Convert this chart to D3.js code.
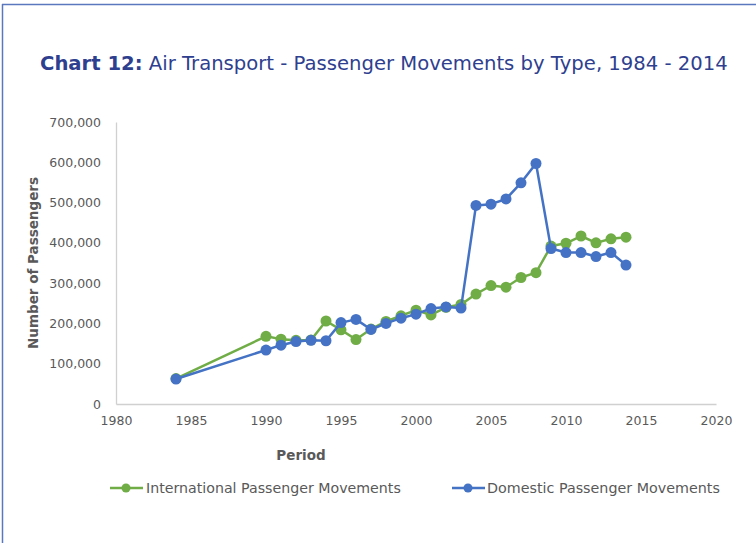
<!DOCTYPE html>
<html>
<head>
<meta charset="utf-8">
<script src="https://cdn.jsdelivr.net/npm/d3@7/dist/d3.min.js"></script>
<style>
  html, body { margin: 0; padding: 0; background: #fff; }
  svg { display: block; }
  text { font-family: "DejaVu Sans", sans-serif; }
</style>
</head>
<body>
<svg id="chart" width="756" height="543"></svg>
<script>
// ---- Data ----
const years = [1984, 1990, 1991, 1992, 1993, 1994, 1995, 1996, 1997, 1998, 1999, 2000, 2001, 2002, 2003, 2004, 2005, 2006, 2007, 2008, 2009, 2010, 2011, 2012, 2013, 2014];
const international = [63000, 168000, 161000, 158000, 159000, 206000, 184000, 160000, 186000, 205000, 219000, 233000, 221000, 240000, 247000, 273000, 294000, 290000, 314000, 326000, 392000, 399000, 417000, 400000, 410000, 414000];
const domestic = [62000, 134000, 146000, 155000, 158000, 157000, 202000, 210000, 185000, 200000, 213000, 223000, 237000, 241000, 238000, 493000, 496000, 509000, 549000, 597000, 386000, 376000, 376000, 366000, 376000, 345000];
const xTicks = [1980, 1985, 1990, 1995, 2000, 2005, 2010, 2015, 2020];
const yTicks = [0, 100000, 200000, 300000, 400000, 500000, 600000, 700000];
const seriesNames = ["International Passenger Movements", "Domestic Passenger Movements"];
const seriesColors = ["#70ad47", "#4472c4"];

const svg = d3.select("#chart");

// border
svg.append("line").attr("x1", 2.5).attr("x2", 2.5).attr("y1", 4).attr("y2", 543)
  .attr("stroke", "#5a78bd").attr("stroke-width", 1.5);
svg.append("line").attr("x1", 2).attr("x2", 756).attr("y1", 4.5).attr("y2", 4.5)
  .attr("stroke", "#5a78bd").attr("stroke-width", 1.5);

// Title
const title = svg.append("text").attr("x", 40).attr("y", 70).attr("fill", "#2f3f8f").attr("font-size", 19);
title.append("tspan").attr("font-weight", "bold").text("Chart 12:");
title.append("tspan").text(" Air Transport - Passenger Movements by Type, 1984 - 2014");
{
  const w = title.node().getComputedTextLength();
  title.attr("font-size", 19 * (688 / w));
}

const x = d3.scaleLinear().domain([1980, 2020]).range([116, 716]);
const y = d3.scaleLinear().domain([0, 700000]).range([404, 122]);

// axes
const xAxis = svg.append("g").attr("transform", "translate(0,404)")
  .call(d3.axisBottom(x).tickValues(xTicks).tickSize(0).tickPadding(12).tickFormat(d3.format("d")));
const yAxis = svg.append("g").attr("transform", "translate(116,0)")
  .call(d3.axisLeft(y).tickValues(yTicks).tickSize(0).tickPadding(15).tickFormat(d3.format(",")));
[xAxis, yAxis].forEach(g => {
  g.select(".domain").attr("stroke", "#d0d0d0").attr("stroke-width", 1.3);
  g.selectAll("text").attr("fill", "#595959").attr("font-size", 12.5).attr("font-family", "DejaVu Sans");
});

// axis titles
svg.append("text").attr("x", 301).attr("y", 460).attr("text-anchor", "middle")
  .attr("font-weight", "bold").attr("font-size", 13.5).attr("fill", "#595959").text("Period");
svg.append("text").attr("transform", "translate(38,263) rotate(-90)").attr("text-anchor", "middle")
  .attr("font-weight", "bold").attr("font-size", 13.5).attr("fill", "#595959").text("Number of Passengers");

// soft marker filter
const defs = svg.append("defs");
defs.append("filter").attr("id", "soft").attr("x", "-50%").attr("y", "-50%").attr("width", "200%").attr("height", "200%")
  .append("feGaussianBlur").attr("stdDeviation", 0.7);

const seriesData = [international, domestic];
const line = d3.line().x((d, i) => x(years[i])).y(d => y(d));
seriesData.forEach((vals, si) => {
  const g = svg.append("g");
  g.append("path").datum(vals).attr("d", line).attr("fill", "none")
    .attr("stroke", seriesColors[si]).attr("stroke-width", 2.5).attr("stroke-linejoin", "round");
  g.selectAll("circle").data(vals).join("circle")
    .attr("cx", (d, i) => x(years[i])).attr("cy", d => y(d)).attr("r", 5.5)
    .attr("fill", seriesColors[si]).attr("filter", "url(#soft)");
});

// legend
const legendItems = [
  { x0: 110, x1: 143, mx: 126, tx: 146, tw: 255 },
  { x0: 452, x1: 485, mx: 468, tx: 487, tw: 233 }
];
legendItems.forEach((L, i) => {
  const g = svg.append("g");
  g.append("line").attr("x1", L.x0).attr("x2", L.x1).attr("y1", 488).attr("y2", 488)
    .attr("stroke", seriesColors[i]).attr("stroke-width", 2.5);
  g.append("circle").attr("cx", L.mx).attr("cy", 488).attr("r", 4.5).attr("fill", seriesColors[i]);
  const t = g.append("text").attr("x", L.tx).attr("y", 493).attr("font-size", 13).attr("fill", "#595959").text(seriesNames[i]);
  const w = t.node().getComputedTextLength();
  t.attr("font-size", 13 * (L.tw / w));
});
</script>
</body>
</html>
